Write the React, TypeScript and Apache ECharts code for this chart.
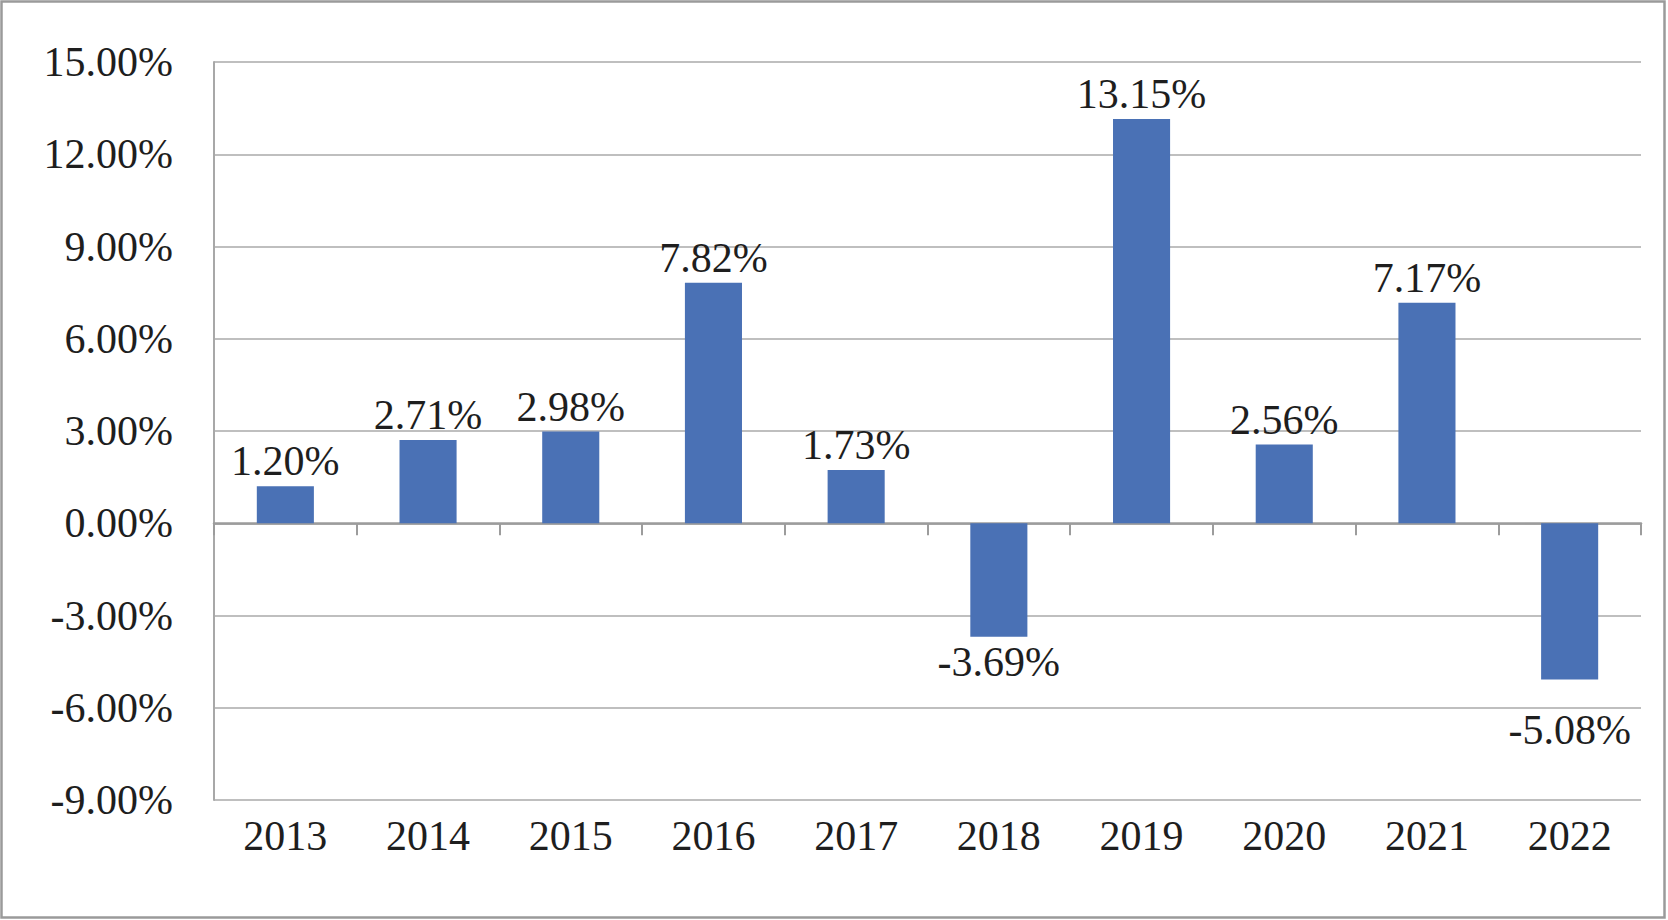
import React, { useEffect, useRef } from "react";
import * as echarts from "echarts";

const years = ["2013", "2014", "2015", "2016", "2017", "2018", "2019", "2020", "2021", "2022"];
const values = [1.2, 2.71, 2.98, 7.82, 1.73, -3.69, 13.15, 2.56, 7.17, -5.08];
const yMin = -9;
const yMax = 15;
const yStep = 3;

// label placement tweaks (style, not data): the 2022 label sits below the -6% gridline
const labelNudge: Record<string, number> = { "2022": 26 };

const FONT = "'Liberation Serif', 'DejaVu Serif', serif";
const TEXT = "#1e1e1e";

export default function App() {
  const ref = useRef<HTMLDivElement>(null);
  useEffect(() => {
    if (!ref.current) return;
    const chart = echarts.init(ref.current, undefined, { renderer: "svg" });
    chart.setOption({
      animation: false,
      backgroundColor: "#ffffff",
      textStyle: { fontFamily: FONT },
      grid: { left: 214, top: 62, right: 27, bottom: 120, containLabel: false },
      graphic: [
        {
          type: "rect",
          shape: { x: 1.5, y: 1.5, width: 1663, height: 916 },
          style: { fill: "none", stroke: "#9a9a9a", lineWidth: 2.5 },
          silent: true,
        },
      ],
      xAxis: [
        {
          type: "category",
          data: years,
          position: "bottom",
          boundaryGap: true,
          axisLine: { show: true, onZero: true, lineStyle: { color: "#9c9c9c", width: 2.5 } },
          axisTick: { show: true, length: 12, lineStyle: { color: "#9c9c9c", width: 2 } },
          axisLabel: { show: false },
          splitLine: { show: false },
        },
        {
          type: "category",
          data: years,
          position: "bottom",
          boundaryGap: true,
          axisLine: { show: false, onZero: false },
          axisTick: { show: false },
          axisLabel: { show: true, fontSize: 42, color: TEXT, fontFamily: FONT, margin: 15 },
          splitLine: { show: false },
        },
      ],
      yAxis: {
        type: "value",
        min: yMin,
        max: yMax,
        interval: yStep,
        axisLine: { show: true, lineStyle: { color: "#a8a8a8", width: 2 } },
        axisTick: { show: false },
        axisLabel: {
          fontSize: 42,
          color: TEXT,
          fontFamily: FONT,
          margin: 41,
          padding: [0, 0, 8, 0],
          formatter: (v: number) => v.toFixed(2) + "%",
        },
        splitLine: { show: true, lineStyle: { color: "#aaaaaa", width: 1.5 } },
      },
      series: [
        {
          type: "bar",
          xAxisIndex: 0,
          barWidth: "40%",
          itemStyle: { color: "#4A71B5" },
          data: values.map((v, i) => ({
            value: v,
            label: {
              show: true,
              position: v < 0 ? "bottom" : "top",
              distance: 4,
              offset: [0, labelNudge[years[i]] || 0],
              fontSize: 42,
              color: TEXT,
              fontFamily: FONT,
              formatter: () => v.toFixed(2) + "%",
            },
          })),
        },
      ],
    });
    return () => chart.dispose();
  }, []);
  return (
    <div
      ref={ref}
      style={{ position: "fixed", left: 0, top: 0, width: 1668, height: 920, background: "#fff" }}
    />
  );
}
